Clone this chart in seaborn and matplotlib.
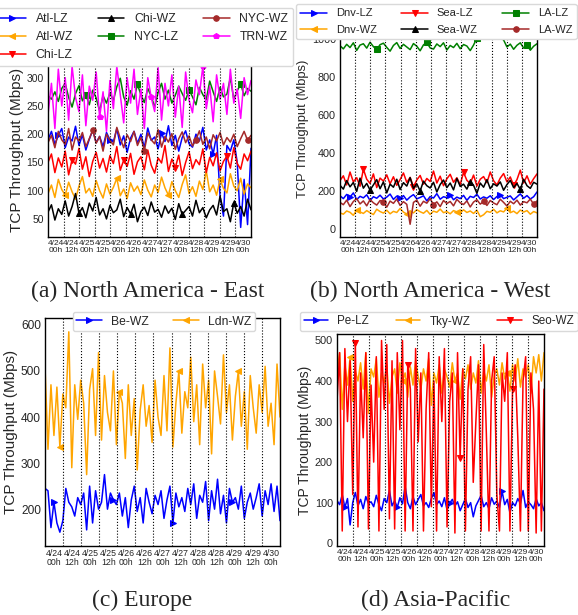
import numpy as np
import matplotlib
matplotlib.use("Agg")
import matplotlib.pyplot as plt
import seaborn as sns

sns.set_style("white")
plt.rcParams['font.family'] = ['Liberation Sans', 'DejaVu Sans']

# x tick labels (one per 12h slot)
tick_labels = ['4/24\n00h', '4/24\n12h', '4/25\n00h', '4/25\n12h', '4/26\n00h',
               '4/26\n12h', '4/27\n00h', '4/27\n12h', '4/28\n00h', '4/28\n12h',
               '4/29\n00h', '4/29\n12h', '4/30\n00h']

# ---- (a) North America - East
atl_lz = [190, 205, 182, 198, 210, 176, 195, 188, 214, 180, 199, 172, 191, 207, 185, 196, 178, 203, 190, 186,
          210, 181, 197, 168, 193, 205, 184, 200, 176, 211, 189, 195, 174, 202, 187, 215, 180, 198, 170, 194,
          206, 183, 177, 200, 188, 212, 172, 190, 165, 198, 90, 55, 180, 170, 190, 150, 35, 120, 40, 175]
atl_wz = [95, 110, 88, 120, 102, 92, 115, 98, 85, 108, 125, 96, 104, 90, 118, 100, 87, 112, 94, 106,
          122, 91, 103, 86, 114, 99, 108, 93, 119, 101, 89, 110, 97, 124, 105, 92, 116, 100, 88, 111,
          128, 95, 107, 90, 117, 102, 135, 98, 110, 92, 120, 104, 96, 130, 108, 100, 122, 94, 112, 105]
chi_lz = [150, 165, 132, 158, 142, 170, 128, 155, 147, 175, 138, 160, 125, 152, 168, 140, 157, 133, 162, 148,
          178, 136, 154, 143, 166, 129, 151, 160, 137, 172, 145, 131, 158, 149, 180, 134, 156, 141, 163, 127,
          150, 169, 139, 155, 146, 174, 132, 159, 144, 167, 135, 152, 161, 140, 176, 148, 138, 165, 153, 170]
chi_wz = [62, 75, 48, 68, 58, 82, 55, 72, 95, 60, 70, 52, 78, 64, 88, 57, 68, 50, 74, 61,
          66, 85, 54, 70, 59, 76, 45, 63, 71, 56, 80, 62, 67, 53, 73, 60, 69, 49, 77, 58,
          65, 72, 55, 83, 61, 70, 52, 66, 74, 57, 90, 63, 68, 45, 79, 60, 72, 55, 85, 66]
nyc_lz = [268, 262, 275, 258, 281, 290, 265, 248, 272, 286, 259, 270, 252, 278, 264, 241, 268, 255, 273, 260,
          284, 299, 266, 251, 277, 262, 288, 270, 256, 281, 267, 248, 274, 290, 262, 278, 255, 269, 285, 272,
          260, 279, 266, 252, 283, 270, 261, 294, 275, 258, 283, 266, 271, 300, 262, 277, 289, 268, 281, 276]
nyc_wz = [185, 198, 176, 205, 190, 182, 210, 172, 195, 188, 203, 178, 192, 207, 184, 196, 170, 200, 189, 181,
          212, 193, 176, 199, 187, 205, 180, 194, 171, 202, 190, 183, 208, 177, 196, 186, 201, 173, 192, 204,
          185, 197, 179, 190, 206, 182, 195, 174, 199, 188, 203, 181, 194, 186, 200, 178, 192, 205, 189, 198]
trn_wz = [235, 290, 210, 315, 250, 300, 225, 320, 265, 240, 305, 215, 285, 260, 310, 230, 275, 205, 295, 245,
          320, 270, 220, 300, 255, 315, 235, 280, 210, 300, 265, 240, 318, 225, 290, 250, 305, 230, 285, 212,
          310, 260, 238, 296, 270, 320, 245, 285, 222, 305, 262, 290, 235, 315, 255, 280, 228, 300, 270, 295]

# ---- (b) North America - West
dnv_lz = [175, 160, 182, 168, 190, 155, 172, 164, 180, 150, 170, 162, 178, 158, 168, 184, 156, 173, 161, 176,
          152, 169, 181, 159, 166, 175, 148, 171, 163, 186, 157, 170, 165, 179, 154, 168, 160, 177, 151, 172,
          166, 183, 158, 169, 162, 175, 155, 171, 180, 160, 167, 174, 153, 169, 185, 162, 176, 158, 170, 195]
dnv_wz = [85, 78, 95, 88, 72, 100, 90, 82, 97, 86, 76, 104, 92, 84, 99, 80, 93, 87, 108, 89,
          79, 96, 85, 102, 91, 83, 98, 77, 94, 88, 105, 86, 92, 80, 97, 90, 84, 101, 87, 95,
          82, 99, 65, 75, 93, 88, 104, 85, 96, 90, 110, 86, 94, 81, 100, 89, 97, 78, 92, 85]
sea_lz = [255, 280, 232, 300, 248, 270, 225, 315, 262, 240, 290, 218, 268, 252, 285, 238, 275, 230, 260, 295,
          245, 272, 222, 258, 282, 236, 266, 250, 305, 242, 278, 228, 264, 288, 246, 270, 234, 298, 256, 240,
          284, 226, 262, 276, 244, 300, 254, 232, 268, 292, 248, 274, 230, 260, 310, 242, 280, 236, 265, 290]
sea_wz = [230, 210, 255, 222, 245, 198, 268, 215, 240, 205, 232, 260, 212, 248, 190, 236, 220, 262, 208, 244,
          226, 270, 214, 238, 200, 252, 228, 216, 246, 195, 234, 258, 218, 242, 206, 266, 224, 236, 210, 250,
          230, 188, 242, 220, 260, 212, 238, 226, 248, 204, 234, 256, 218, 240, 208, 262, 228, 214, 246, 236]
la_lz = [965, 948, 972, 955, 980, 940, 968, 975, 952, 983, 960, 945, 970, 978, 956, 936, 966, 981, 950, 972,
         958, 944, 976, 962, 938, 969, 982, 953, 947, 974, 960, 980, 942, 966, 955, 977, 949, 971, 963, 939,
         968, 1005, 1015, 1010, 1020, 1008, 1012, 1018, 1006, 995, 958, 973, 946, 967, 980, 952, 970, 941, 962, 975]
la_wz = [140, 128, 152, 118, 145, 160, 132, 148, 122, 155, 138, 126, 150, 142, 115, 147, 135, 158, 124, 144,
         130, 25, 140, 152, 120, 146, 136, 160, 128, 143, 118, 150, 134, 145, 122, 156, 138, 129, 148, 116,
         142, 154, 131, 145, 124, 150, 137, 128, 157, 140, 121, 146, 133, 152, 126, 144, 138, 158, 130, 148]

# ---- (c) Europe
be_wz = [245, 240, 160, 215, 170, 150, 175, 245, 215, 205, 185, 225, 210, 235, 155, 250, 170, 240, 200, 215,
         275, 200, 235, 220, 210, 235, 185, 225, 160, 220, 250, 195, 225, 170, 245, 215, 190, 230, 210, 240,
         180, 220, 250, 170, 235, 205, 225, 195, 245, 210, 255, 180, 230, 215, 260, 175, 240, 200, 265, 190,
         230, 170, 245, 215, 225, 200, 250, 180, 215, 235, 200, 225, 255, 185, 240, 210, 255, 195, 250, 175]
ldn_wz = [510, 330, 470, 360, 465, 335, 450, 420, 585, 290, 470, 395, 480, 430, 275, 460, 505, 360, 540, 350,
          490, 410, 370, 500, 340, 455, 430, 310, 470, 360, 440, 285, 415, 470, 380, 425, 345, 480, 400, 360,
          490, 370, 550, 335, 430, 500, 365, 455, 420, 530, 390, 470, 340, 515, 420, 480, 320, 500, 445, 385,
          535, 410, 470, 350, 445, 500, 380, 455, 330, 490, 420, 365, 470, 410, 510, 380, 430, 340, 515, 400]

# ---- (d) Asia-Pacific
pe_lz = [105, 95, 120, 88, 110, 45, 100, 125, 92, 108, 85, 115, 98, 102, 90, 118, 95, 80, 110, 100,
         130, 92, 105, 88, 112, 97, 140, 100, 85, 115, 95, 108, 120, 92, 100, 88, 110, 125, 95, 104,
         90, 112, 82, 98, 108, 92, 102, 80, 95, 110, 88, 100, 65, 92, 105, 118, 90, 100, 85, 112,
         96, 104, 88, 128, 95, 108, 75, 100, 92, 110, 98, 130, 88, 102, 95, 85, 110, 92, 100, 80]
tky_wz = [420, 470, 330, 440, 390, 460, 350, 425, 400, 445, 380, 470, 320, 430, 410, 455, 360, 420, 395, 440,
          345, 410, 430, 370, 445, 400, 420, 360, 435, 390, 450, 410, 380, 430, 400, 455, 340, 420, 395, 440,
          370, 430, 410, 385, 445, 400, 420, 355, 430, 405, 440, 380, 420, 395, 450, 370, 425, 400, 440, 360,
          415, 430, 390, 445, 405, 420, 375, 440, 400, 455, 385, 430, 410, 440, 370, 460, 420, 465, 400, 470]
seo_wz = [350, 470, 30, 480, 300, 450, 120, 495, 40, 420, 260, 470, 35, 390, 200, 460, 30, 500, 330, 490,
          60, 450, 35, 470, 280, 500, 30, 440, 380, 30, 480, 250, 420, 30, 330, 470, 90, 400, 30, 460,
          300, 480, 40, 350, 420, 25, 470, 210, 430, 30, 380, 460, 150, 300, 440, 30, 490, 270, 30, 400,
          460, 120, 30, 420, 350, 470, 30, 380, 440, 260, 30, 400, 460, 30, 420, 330, 25, 400, 30, 380]

W, H = 578, 615
fig = plt.figure(figsize=(W / 100, H / 100), dpi=100)


def box(l, t, r, b):
    return [l / W, 1 - b / H, (r - l) / W, (b - t) / H]


def panel(rect, series, ylim, yticks, fs_tick, fs_label, fs_x):
    ax = fig.add_axes(box(*rect))
    for k, (name, vals, color, mk) in enumerate(series):
        hrs = np.linspace(0, 156, len(vals))
        step = len(vals) // 4
        sns.lineplot(x=hrs, y=vals, color=color, marker=mk, markersize=4,
                     markevery=(3 + 2 * k, step), markeredgecolor=color, lw=1.1,
                     label=name, ax=ax, legend=False)
    for h in range(12, 156, 12):
        ax.axvline(h, color='black', ls=':', lw=0.8, zorder=2.5)
    ax.set_xlim(0, 156)
    ax.set_ylim(*ylim)
    ax.set_yticks(yticks)
    ax.set_xticks(np.arange(6, 156, 12))
    ax.set_xticklabels(tick_labels, fontsize=fs_x, linespacing=1.0)
    ax.tick_params(axis='y', labelsize=fs_tick, length=0, pad=3)
    ax.tick_params(axis='x', length=0, pad=2)
    ax.set_ylabel('TCP Throughput (Mbps)', fontsize=fs_label, labelpad=2)
    for s in ax.spines.values():
        s.set_color('black')
        s.set_linewidth(1.0)
    return ax


ax_a = panel((48, 63, 251, 237),
             [('Atl-LZ', atl_lz, 'blue', '>'), ('Atl-WZ', atl_wz, 'orange', '<'),
              ('Chi-LZ', chi_lz, 'red', 'v'), ('Chi-WZ', chi_wz, 'black', '^'),
              ('NYC-LZ', nyc_lz, 'green', 's'), ('NYC-WZ', nyc_wz, 'brown', 'o'),
              ('TRN-WZ', trn_wz, 'magenta', 'p')],
             (18, 326), [50, 100, 150, 200, 250, 300], 7.5, 11, 6)
ax_a.legend(loc='upper left', bbox_to_anchor=(-6 / W, 1 - 8 / H), bbox_transform=fig.transFigure,
            ncol=3, fontsize=8.8, frameon=True, edgecolor='0.85', framealpha=1,
            handlelength=2.2, columnspacing=2.0, labelspacing=0.5, borderaxespad=0)

ax_b = panel((340, 20, 537, 237),
             [('Dnv-LZ', dnv_lz, 'blue', '>'), ('Dnv-WZ', dnv_wz, 'orange', '<'),
              ('Sea-LZ', sea_lz, 'red', 'v'), ('Sea-WZ', sea_wz, 'black', '^'),
              ('LA-LZ', la_lz, 'green', 's'), ('LA-WZ', la_wz, 'brown', 'o')],
             (-42, 1100), [0, 200, 400, 600, 800, 1000], 7.8, 9.3, 6)
ax_b.legend(loc='upper left', bbox_to_anchor=(296 / W, 1 - 4 / H), bbox_transform=fig.transFigure,
            ncol=3, fontsize=8, frameon=True, edgecolor='0.85', framealpha=1,
            handlelength=2.4, columnspacing=2.2, labelspacing=0.55, borderaxespad=0)

ax_c = panel((45, 318, 280, 546),
             [('Be-WZ', be_wz, 'blue', '>'), ('Ldn-WZ', ldn_wz, 'orange', '<')],
             (120, 615), [200, 300, 400, 500, 600], 8.6, 11, 6.3)
ax_c.legend(loc='upper center', bbox_to_anchor=(164 / W, 1 - 312 / H), bbox_transform=fig.transFigure,
            ncol=2, fontsize=8.7, frameon=True, edgecolor='0.85', framealpha=1,
            handlelength=2.1, columnspacing=2.0, borderaxespad=0, borderpad=0.3)

ax_d = panel((337, 334, 544, 546),
             [('Pe-LZ', pe_lz, 'blue', '>'), ('Tky-WZ', tky_wz, 'orange', '<'),
              ('Seo-WZ', seo_wz, 'red', 'v')],
             (-7, 516), [0, 100, 200, 300, 400, 500], 7.8, 10, 6)
ax_d.legend(loc='upper left', bbox_to_anchor=(300 / W, 1 - 312 / H), bbox_transform=fig.transFigure,
            ncol=3, fontsize=8.4, frameon=True, edgecolor='0.85', framealpha=1,
            handlelength=2.1, columnspacing=2.3, borderaxespad=0, borderpad=0.3)

cap = dict(family=['Liberation Serif', 'DejaVu Serif'], fontsize=17, ha='center', va='center')
fig.text(148 / W, 1 - 291 / H, '(a) North America - East', **cap)
fig.text(430 / W, 1 - 291 / H, '(b) North America - West', **cap)
fig.text(142 / W, 1 - 600 / H, '(c) Europe', **cap)
fig.text(436 / W, 1 - 600 / H, '(d) Asia-Pacific', **cap)

fig.savefig('out.png', dpi=100)
